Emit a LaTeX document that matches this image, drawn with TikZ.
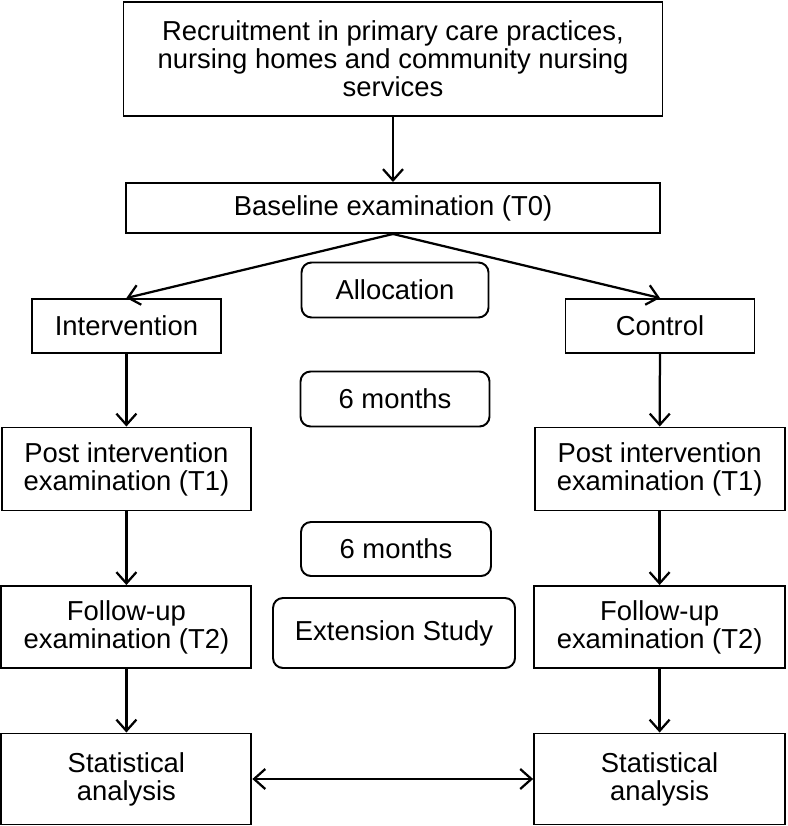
\documentclass[tikz,border=0pt]{standalone}
\usepackage{fontspec}
\setmainfont{Liberation Sans}
\usetikzlibrary{arrows.meta}
\tikzset{
	box/.style={draw, line width=1.4pt, align=center, inner sep=0pt,
		font=\fontsize{19.5pt}{20pt}\selectfont},
	roundbox/.style={box, rounded corners=2.5mm},
	link/.style={line width=1.6pt, ->},
}

\begin{document}
\begin{tikzpicture}[>={Straight Barb[length=2.8mm,width=5mm]}]
	\useasboundingbox (0,0) rectangle (19.675,-20.65);
	\node[box, minimum width=13.475cm, minimum height=2.85cm] (recruit) at (9.825,-1.475)
		{Recruitment in primary care practices,\\nursing homes and community nursing\\services};
	\node[box, minimum width=13.35cm, minimum height=1.25cm] (baseline) at (9.825,-5.2) {Baseline examination (T0)};
	\node[roundbox, minimum width=4.675cm, minimum height=1.375cm] (alloc) at (9.875,-7.25) {Allocation};
	\node[box, minimum width=4.725cm, minimum height=1.35cm] (interv) at (3.16,-8.15) {Intervention};
	\node[box, minimum width=4.725cm, minimum height=1.35cm] (control) at (16.5,-8.15) {Control};
	\node[roundbox, minimum width=4.725cm, minimum height=1.375cm] (monthsA) at (9.875,-9.975) {6 months};
	\node[box, minimum width=6.225cm, minimum height=2.075cm] (postL) at (3.16,-11.725) {Post intervention\\examination (T1)};
	\node[box, minimum width=6.25cm, minimum height=2.075cm] (postR) at (16.49,-11.725) {Post intervention\\examination (T1)};
	\node[roundbox, minimum width=4.75cm, minimum height=1.35cm] (monthsB) at (9.9,-13.725) {6 months};
	\node[box, minimum width=6.25cm, minimum height=2.05cm] (followL) at (3.16,-15.675) {Follow-up\\examination (T2)};
	\node[box, minimum width=6.275cm, minimum height=2.05cm] (followR) at (16.49,-15.675) {Follow-up\\examination (T2)};
	\node[roundbox, minimum width=6.05cm, minimum height=1.75cm] (ext) at (9.85,-15.825) {Extension Study};
	\node[box, minimum width=6.25cm, minimum height=2.275cm] (statL) at (3.16,-19.475) {Statistical\\analysis};
	\node[box, minimum width=6.275cm, minimum height=2.275cm] (statR) at (16.49,-19.475) {Statistical\\analysis};

	\draw[link] (recruit) -- (baseline);
	\draw[link] (baseline.south) -- (interv.north);
	\draw[link] (baseline.south) -- (control.north);
	\foreach \a/\b in {interv/postL, control/postR, postL/followL, postR/followR, followL/statL, followR/statR}
		\draw[link] (\a) -- (\b);
	\draw[link, <->] (statL) -- (statR);
\end{tikzpicture}
\end{document}
